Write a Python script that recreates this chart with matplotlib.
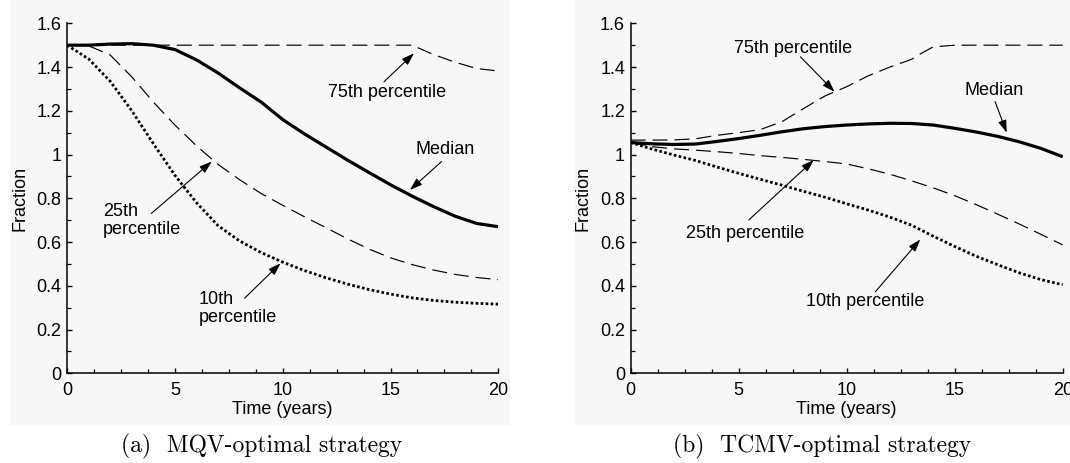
import matplotlib
matplotlib.use("Agg")
import matplotlib.pyplot as plt
from matplotlib.patches import Rectangle

# ---------------- data ----------------
years = list(range(0, 21))

# (a) MQV-optimal strategy
mqv_median = [1.5, 1.5, 1.505, 1.507, 1.5, 1.48, 1.433, 1.373, 1.305, 1.24, 1.16,
              1.095, 1.035, 0.975, 0.918, 0.862, 0.81, 0.762, 0.718, 0.685, 0.67]
mqv_p25 = [1.5, 1.497, 1.455, 1.355, 1.24, 1.135, 1.04, 0.955, 0.885, 0.822, 0.768,
           0.716, 0.666, 0.615, 0.568, 0.528, 0.497, 0.472, 0.452, 0.438, 0.428]
mqv_p10 = [1.5, 1.437, 1.335, 1.2, 1.05, 0.905, 0.78, 0.675, 0.605, 0.552, 0.508,
           0.47, 0.437, 0.408, 0.383, 0.362, 0.345, 0.333, 0.325, 0.32, 0.316]
mqv_p75 = [1.5, 1.5, 1.5, 1.5, 1.5, 1.5, 1.5, 1.5, 1.5, 1.5, 1.5,
           1.5, 1.5, 1.5, 1.5, 1.5, 1.5, 1.457, 1.422, 1.393, 1.382]

# (b) TCMV-optimal strategy
years_b75 = [0, 1, 2, 3, 4, 5, 6, 7, 8, 9, 10, 11, 12, 13, 13.5, 14, 15, 16, 17, 18, 19, 20]
tcmv_p75 = [1.066, 1.066, 1.067, 1.072, 1.088, 1.1, 1.114, 1.15, 1.21, 1.268, 1.31,
            1.36, 1.4, 1.435, 1.465, 1.492, 1.5, 1.5, 1.5, 1.5, 1.5, 1.5]
tcmv_median = [1.055, 1.049, 1.046, 1.048, 1.06, 1.073, 1.088, 1.104, 1.118, 1.128, 1.135,
               1.14, 1.143, 1.142, 1.135, 1.12, 1.103, 1.083, 1.058, 1.028, 0.99]
tcmv_p25 = [1.055, 1.036, 1.026, 1.02, 1.013, 1.005, 0.995, 0.987, 0.978, 0.968, 0.957,
            0.935, 0.91, 0.88, 0.848, 0.812, 0.771, 0.727, 0.682, 0.635, 0.587]
tcmv_p10 = [1.055, 1.025, 0.998, 0.973, 0.943, 0.914, 0.887, 0.86, 0.832, 0.805, 0.775,
            0.746, 0.714, 0.677, 0.627, 0.58, 0.535, 0.496, 0.459, 0.428, 0.405]

x_ticks = [0, 5, 10, 15, 20]
y_ticks = [0, 0.2, 0.4, 0.6, 0.8, 1.0, 1.2, 1.4, 1.6]
y_tick_labels = ["0", "0.2", "0.4", "0.6", "0.8", "1", "1.2", "1.4", "1.6"]
captions = ["(a)  MQV-optimal strategy", "(b)  TCMV-optimal strategy"]

# annotations: (text, text_xy, ha, arrow_tail, arrow_head)
ann_a = [
    ("75th percentile", (14.86, 1.283), "center", (14.7, 1.333), (16.09, 1.463)),
    ("Median", (17.53, 1.025), "center", (17.37, 0.968), (15.9, 0.838)),
    ("25th\npercentile", (1.65, 0.70), "left", (3.91, 0.731), (6.71, 0.968)),
    ("10th\npercentile", (6.12, 0.297), "left", (8.23, 0.343), (9.9, 0.503)),
]
ann_b = [
    ("75th percentile", (7.54, 1.486), "center", (7.86, 1.447), (9.44, 1.287)),
    ("Median", (16.83, 1.295), "center", (16.87, 1.242), (17.41, 1.10)),
    ("25th percentile", (5.31, 0.64), "center", (5.47, 0.701), (8.48, 0.975)),
    ("10th percentile", (10.88, 0.328), "center", (11.33, 0.373), (13.41, 0.612)),
]

# ---------------- style ----------------
plt.rcParams["font.family"] = ["Liberation Sans", "DejaVu Sans"]
plt.rcParams["lines.scale_dashes"] = False
FS = 13

W, H = 1070, 463
fig = plt.figure(figsize=(W / 100, H / 100), dpi=100)

# light grey panels behind each subfigure
fig.patches.append(Rectangle((10 / W, 1 - 425 / H), 500 / W, 425 / H, transform=fig.transFigure,
                             facecolor="#f7f7f7", edgecolor="none", zorder=-10))
fig.patches.append(Rectangle((575 / W, 1 - 425 / H), 495 / W, 425 / H, transform=fig.transFigure,
                             facecolor="#f7f7f7", edgecolor="none", zorder=-10))

ax_a = fig.add_axes([67.1 / W, 1 - 373.3 / H, 431.2 / W, 350 / H])
ax_b = fig.add_axes([630.6 / W, 1 - 373.3 / H, 432.1 / W, 350 / H])

dash = (0, (10.8, 5.0))
dot = (0, (1.9, 1.7))

ax_a.plot(years, mqv_p75, color="black", lw=0.85, linestyle=dash)
ax_a.plot(years, mqv_median, color="black", lw=2.3, solid_capstyle="butt")
ax_a.plot(years, mqv_p25, color="black", lw=0.85, linestyle=dash)
ax_a.plot(years, mqv_p10, color="black", lw=2.0, linestyle=dot, dash_capstyle="butt")

ax_b.plot(years_b75, tcmv_p75, color="black", lw=0.85, linestyle=dash)
ax_b.plot(years, tcmv_median, color="black", lw=2.3, solid_capstyle="butt")
ax_b.plot(years, tcmv_p25, color="black", lw=0.85, linestyle=dash)
ax_b.plot(years, tcmv_p10, color="black", lw=2.0, linestyle=dot, dash_capstyle="butt")

for ax, anns in ((ax_a, ann_a), (ax_b, ann_b)):
    ax.set_facecolor("none")
    ax.set_xlim(0, 20)
    ax.set_ylim(0, 1.6)
    ax.set_xticks(x_ticks)
    ax.set_xticks([i * 1.25 for i in range(17)], minor=True)
    ax.set_yticks(y_ticks)
    ax.set_yticklabels(y_tick_labels)
    ax.set_yticks([i * 0.1 for i in range(17)], minor=True)
    for s in ("top", "right"):
        ax.spines[s].set_visible(False)
    for s in ("left", "bottom"):
        ax.spines[s].set_linewidth(1.1)
    ax.tick_params(which="major", direction="in", length=3.6, width=1.0, labelsize=FS)
    ax.tick_params(which="minor", direction="in", length=2.6, width=0.9)
    ax.tick_params(axis="x", which="major", pad=6)
    ax.tick_params(axis="y", which="major", pad=4)
    ax.set_xlabel("Time (years)", fontsize=FS, labelpad=2)
    ax.set_ylabel("Fraction", fontsize=FS, labelpad=6)
    for txt, pos, ha, tail, head in anns:
        ax.text(pos[0], pos[1], txt, fontsize=FS, ha=ha, va="center", linespacing=1.05)
        ax.annotate("", xy=head, xytext=tail,
                    arrowprops=dict(arrowstyle="-|>,head_length=0.75,head_width=0.25",
                                    mutation_scale=10, lw=0.8, color="black",
                                    shrinkA=0, shrinkB=0))

fig.text(262 / W, 1 - 446 / H, captions[0], family="cmr10", fontsize=17,
         ha="center", va="center")
fig.text(822 / W, 1 - 446 / H, captions[1], family="cmr10", fontsize=17,
         ha="center", va="center")

fig.savefig("out.png", dpi=100)
